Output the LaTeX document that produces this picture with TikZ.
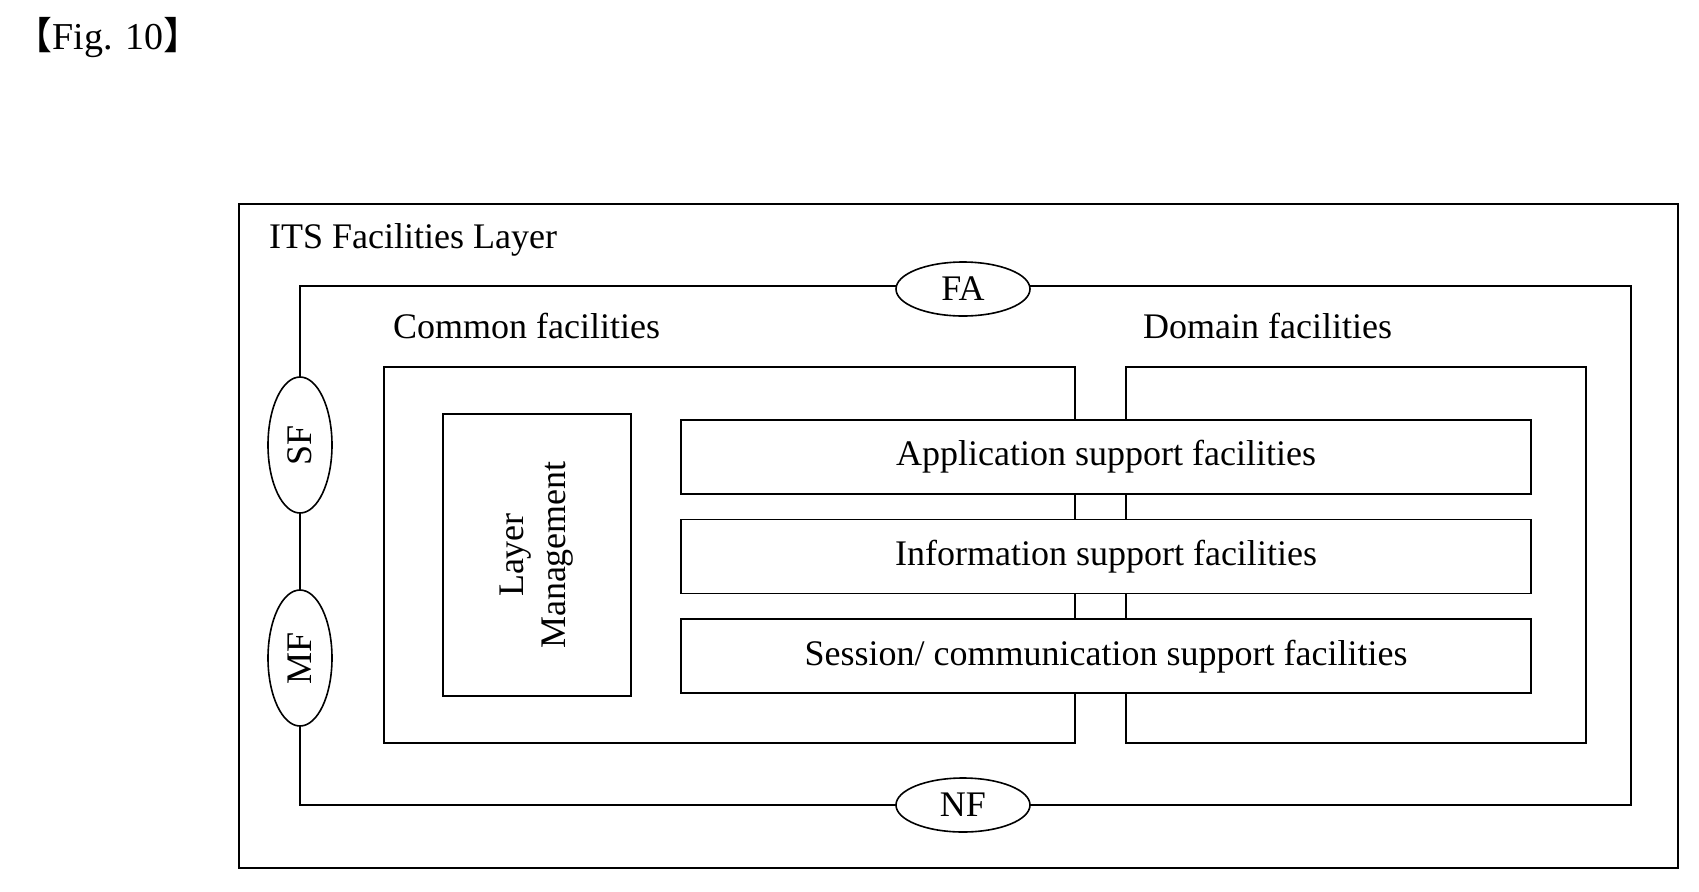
\documentclass[tikz,border=0pt]{standalone}
\usepackage{fontspec}
\setmainfont{Liberation Serif}
\newfontfamily\cjk{Noto Sans CJK SC}
\usetikzlibrary{positioning,shapes.geometric}
\begin{document}
\begin{tikzpicture}[x=0.5pt,y=-0.5pt,
    box/.style={draw, line width=0.8pt, fill=white},
    bar/.style={box, minimum width=425pt, minimum height=37pt, font=\fontsize{18}{20}\selectfont},
    port/.style={draw, ellipse, line width=0.8pt, fill=white, font=\fontsize{18}{20}\selectfont, inner sep=0pt}]
    \useasboundingbox (0,0) rectangle (1699,891);
    \node[anchor=west, inner sep=0pt, font=\fontsize{19}{20}\selectfont] (fig) at (14,38) {{\cjk 【}Fig. 10{\cjk 】}};

    % outer layer
    \draw[box] (239,204) rectangle (1678,868);
    \node[anchor=west, font=\fontsize{18}{20}\selectfont] (title) at (262,240) {ITS Facilities Layer};
    \draw[line width=0.8pt] (300,286) rectangle (1631,805);

    % facility groups
    \draw[box] (384,367) rectangle (1075,743);
    \draw[box] (1126,367) rectangle (1586,743);
    \node[anchor=west, font=\fontsize{18}{20}\selectfont] (common) at (386,326) {Common facilities};
    \node[anchor=west, font=\fontsize{18}{20}\selectfont] (domain) at (1136,326) {Domain facilities};

    \node[box, minimum width=94pt, minimum height=141pt] (lm) at (537,555) {};
    \node[rotate=90, align=center, font=\fontsize{18}{21}\selectfont] (lmtext) at (lm) {Layer\\Management};

    \node[bar] (app) at (1106,457) {Application support facilities};
    \node[bar, below=12pt of app] (info) {Information support facilities};
    \node[bar, below=12pt of info] (sess) {Session/ communication support facilities};

    % interface ports
    \node[port, minimum width=67pt, minimum height=27pt] (fa) at (963,289) {FA};
    \node[port, minimum width=67pt, minimum height=27pt] (nf) at (963,805) {NF};
    \node[port, minimum width=32pt, minimum height=68pt] (sf) at (300,445) {\rotatebox{90}{SF}};
    \node[port, minimum width=32pt, minimum height=68pt] (mf) at (300,658) {\rotatebox{90}{MF}};
\end{tikzpicture}
\end{document}
